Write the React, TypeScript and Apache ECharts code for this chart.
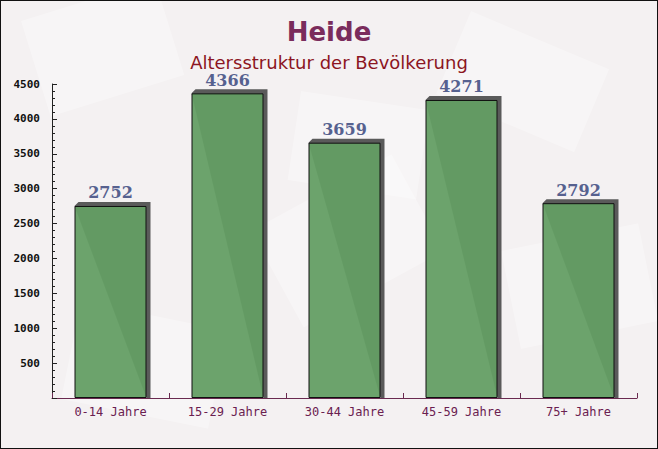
import React, { useEffect, useRef } from "react";
import * as echarts from "echarts";

const categories = ["0-14 Jahre", "15-29 Jahre", "30-44 Jahre", "45-59 Jahre", "75+ Jahre"];
const values = [2752, 4366, 3659, 4271, 2792];
const yTicks = { min: 0, max: 4500, interval: 500 };
const titleText = "Heide";
const subtitleText = "Altersstruktur der Bevölkerung";

export default function App() {
  const ref = useRef<HTMLDivElement>(null);
  useEffect(() => {
    if (!ref.current) return;
    const chart = echarts.init(ref.current, null, { renderer: "svg" });
    const shapes = [
      { x: 20, y: 20, w: 140, h: 100, r: 0.3 },
      { x: 470, y: 10, w: 150, h: 90, r: -0.4 },
      { x: 250, y: 230, w: 160, h: 110, r: 0.5 },
      { x: 80, y: 300, w: 150, h: 100, r: -0.2 },
      { x: 500, y: 250, w: 140, h: 100, r: 0.2 },
      { x: 300, y: 90, w: 130, h: 90, r: -0.15 },
    ];
    chart.setOption({
      animation: false,
      backgroundColor: "#f4f1f2",
      graphic: shapes.map((s) => ({
        type: "rect",
        x: s.x,
        y: s.y,
        rotation: s.r,
        silent: true,
        z: -10,
        shape: { width: s.w, height: s.h },
        style: { fill: "rgba(255,255,255,0.3)" },
      })),
      title: [
        {
          text: titleText,
          left: "center",
          top: 13,
          textStyle: { fontFamily: "DejaVu Sans", fontWeight: "bold", fontSize: 26, color: "#7a2c5c" },
        },
        {
          text: subtitleText,
          left: "center",
          top: 46,
          textStyle: { fontFamily: "DejaVu Sans", fontWeight: "normal", fontSize: 18, lineHeight: 20, color: "#8c1522" },
        },
      ],
      grid: { left: 51, right: 20, top: 83, bottom: 50 },
      xAxis: {
        type: "category",
        data: categories,
        axisLine: { lineStyle: { color: "#6a2a50", width: 1 } },
        axisTick: { show: true, inside: true, length: 5, alignWithLabel: false, lineStyle: { color: "#6a2a50" } },
        axisLabel: {
          fontFamily: "DejaVu Sans Mono",
          fontSize: 12,
          color: "#6a2050",
          margin: 8,
        },
        splitLine: { show: false },
      },
      yAxis: {
        type: "value",
        min: yTicks.min,
        max: yTicks.max,
        interval: yTicks.interval,
        axisLine: { show: true, lineStyle: { color: "#222", width: 1 } },
        axisTick: { show: true, inside: true, length: 5, lineStyle: { color: "#222" } },
        minorTick: { show: true, splitNumber: 5, length: 3, lineStyle: { color: "#222" } },
        axisLabel: {
          fontFamily: "DejaVu Sans Mono",
          fontWeight: "bold",
          fontSize: 11,
          color: "#111",
          margin: 12,
          formatter: (v: number) => (v === 0 ? "" : String(v)),
        },
        splitLine: { show: false },
      },
      series: [
        {
          type: "custom",
          z: 1,
          data: values.map((v, i) => [i, v]),
          renderItem: (params: any, api: any) => {
            const idx = api.value(0);
            const val = api.value(1);
            const top = api.coord([idx, val]);
            const bottom = api.coord([idx, 0]);
            const w = 72;
            const x0 = top[0] - w / 2;
            const x1 = top[0] + w / 2;
            const d = 4;
            return {
              type: "polygon",
              shape: {
                points: [
                  [x0, top[1]],
                  [x0 + d, top[1] - d],
                  [x1 + d, top[1] - d],
                  [x1 + d, bottom[1]],
                  [x1, bottom[1]],
                ],
              },
              style: { fill: "#5a5a5a" },
            };
          },
        },
        {
          type: "bar",
          z: 2,
          data: values,
          barWidth: 72,
          itemStyle: { color: "rgba(100,158,100,0.95)", borderColor: "#111", borderWidth: 1 },
          label: {
            show: true,
            position: "top",
            distance: 5,
            fontFamily: "DejaVu Serif",
            fontWeight: "bold",
            fontSize: 16,
            lineHeight: 16,
            color: "#56618f",
          },
        },
      ],
    });
    return () => chart.dispose();
  }, []);
  return (
    <div
      style={{
        position: "fixed",
        left: 0,
        top: 0,
        width: 658,
        height: 449,
        boxSizing: "border-box",
        border: "1px solid #111",
        overflow: "hidden",
      }}
    >
      <div ref={ref} style={{ width: 656, height: 447 }} />
    </div>
  );
}
